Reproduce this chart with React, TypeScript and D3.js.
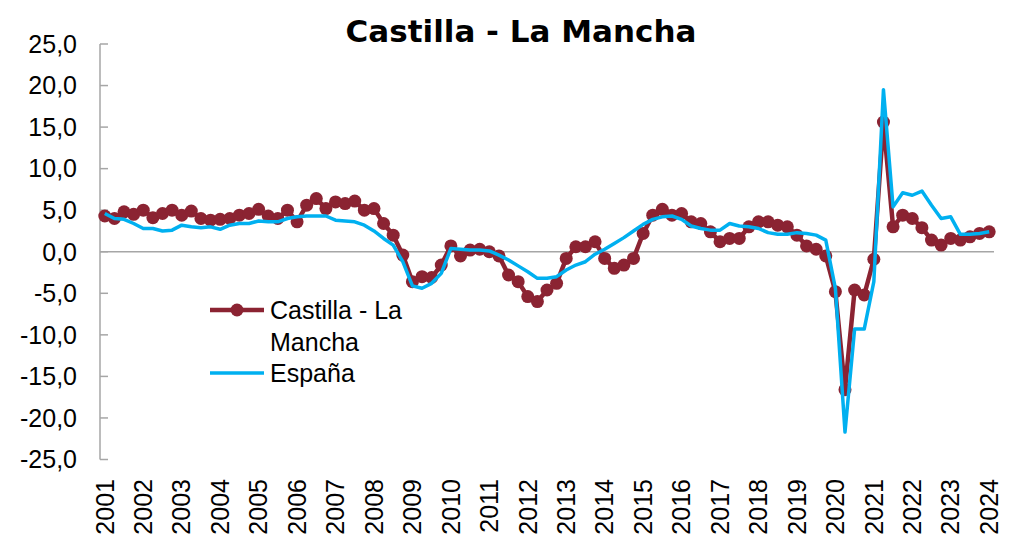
import React from 'react';
import * as d3 from 'd3';

// quarterly values, 2001 Q1 .. 2024 Q1
const years = [2001, 2002, 2003, 2004, 2005, 2006, 2007, 2008, 2009, 2010, 2011, 2012,
  2013, 2014, 2015, 2016, 2017, 2018, 2019, 2020, 2021, 2022, 2023, 2024];
const quarters = ['T1', 'T2', 'T3', 'T4'];

const castilla = [
  4.3, 4.0, 4.8, 4.5, 5.0, 4.1, 4.6, 5.0, 4.4, 4.9, 4.0, 3.8,
  3.9, 4.0, 4.4, 4.6, 5.1, 4.3, 4.0, 5.0, 3.6, 5.6, 6.4, 5.2,
  6.0, 5.8, 6.1, 5.0, 5.2, 3.4, 2.0, -0.4, -3.6, -3.0, -3.1, -1.6,
  0.7, -0.5, 0.2, 0.3, 0.0, -0.5, -2.8, -3.6, -5.4, -6.0, -4.6, -3.8,
  -0.8, 0.6, 0.6, 1.2, -0.8, -2.0, -1.6, -0.8, 2.2, 4.4, 5.1, 4.4,
  4.6, 3.6, 3.4, 2.4, 1.2, 1.6, 1.6, 3.0, 3.6, 3.6, 3.2, 3.0,
  2.0, 0.7, 0.3, -0.5, -4.8, -16.6, -4.6, -5.2, -0.9, 15.6, 3.0, 4.4,
  4.0, 2.9, 1.4, 0.8, 1.6, 1.4, 1.8, 2.2, 2.4,
];

const espana = [
  4.6, 4.0, 3.9, 3.4, 2.8, 2.8, 2.5, 2.6, 3.2, 3.0, 2.9, 3.0,
  2.7, 3.2, 3.4, 3.4, 3.7, 3.6, 3.6, 4.0, 4.2, 4.3, 4.3, 4.3,
  3.8, 3.7, 3.6, 3.2, 2.5, 1.6, 0.8, -1.2, -4.1, -4.4, -3.8, -2.6,
  0.4, 0.3, 0.2, 0.2, 0.1, -0.4, -1.0, -1.7, -2.4, -3.2, -3.2, -3.0,
  -2.2, -1.6, -1.2, -0.3, 0.3, 1.0, 1.7, 2.5, 3.3, 3.9, 4.2, 4.3,
  3.9, 3.1, 2.8, 2.6, 2.6, 3.4, 3.1, 3.0, 2.8, 2.3, 2.1, 2.1,
  2.3, 2.2, 2.0, 1.4, -4.4, -21.7, -9.3, -9.3, -3.6, 19.5, 5.4, 7.1,
  6.8, 7.3, 5.6, 4.0, 4.2, 2.1, 2.1, 2.2, 2.4,
];

const yTicks = [25, 20, 15, 10, 5, 0, -5, -10, -15, -20, -25];

const categories = years.flatMap((y) => quarters.map((q) => `${y} ${q}`)).slice(0, castilla.length);

const W = 1011;
const H = 547;
const RED = '#8B2332';
const BLUE = '#00B0F0';
const AXIS = '#A6A6A6';
const FONT = '"Liberation Sans", Arial, sans-serif';

export default function App() {
  const x = d3.scalePoint<string>().domain(categories).range([100, 994]).padding(0.5);
  const y = d3.scaleLinear().domain([-25, 25]).range([459.5, 44]);

  const line = d3.line<number>()
    .x((_, i) => x(categories[i]) as number)
    .y((d) => y(d));

  const fmt = (v: number) => v.toFixed(1).replace('.', ',');

  return (
    <svg width={W} height={H} style={{ position: 'absolute', left: 0, top: 0, background: '#fff' }}>
      <text x={521} y={42} textAnchor="middle" fontFamily='"DejaVu Sans", Verdana, sans-serif'
        fontWeight="bold" fontSize={31} fill="#000">Castilla - La Mancha</text>

      {/* y axis */}
      <line x1={100} x2={100} y1={y(25)} y2={y(-25)} stroke={AXIS} strokeWidth={1.5} />
      {yTicks.map((t) => (
        <g key={t}>
          <line x1={100} x2={108} y1={y(t)} y2={y(t)} stroke={AXIS} strokeWidth={1.5} />
          <text x={77} y={y(t)} dy="0.35em" textAnchor="end" fontFamily={FONT} fontSize={25} fill="#000">
            {fmt(t)}
          </text>
        </g>
      ))}

      {/* category axis at zero */}
      <line x1={100} x2={994} y1={y(0)} y2={y(0)} stroke={AXIS} strokeWidth={1.5} />
      {years.map((yr, k) => {
        const cx = x(categories[k * 4]) as number;
        return (
          <text key={yr} transform={`translate(${cx},479) rotate(-90)`} dy="0.35em" textAnchor="end"
            fontFamily={FONT} fontSize={25} fill="#000">{yr}</text>
        );
      })}

      {/* Castilla - La Mancha */}
      <path d={line(castilla) || ''} fill="none" stroke={RED} strokeWidth={4.5} strokeLinejoin="round" />
      {castilla.map((v, i) => (
        <circle key={i} cx={x(categories[i]) as number} cy={y(v)} r={6.5} fill={RED} />
      ))}

      {/* España */}
      <path d={line(espana) || ''} fill="none" stroke={BLUE} strokeWidth={3.5} strokeLinejoin="round" />

      {/* legend */}
      <line x1={210} x2={264} y1={310} y2={310} stroke={RED} strokeWidth={4.5} />
      <circle cx={237} cy={310} r={6.5} fill={RED} />
      <text x={270} y={319} fontFamily={FONT} fontSize={25} fill="#000">Castilla - La</text>
      <text x={270} y={351} fontFamily={FONT} fontSize={25} fill="#000">Mancha</text>
      <line x1={210} x2={264} y1={373} y2={373} stroke={BLUE} strokeWidth={3.5} />
      <text x={270} y={382} fontFamily={FONT} fontSize={25} fill="#000">España</text>
    </svg>
  );
}
